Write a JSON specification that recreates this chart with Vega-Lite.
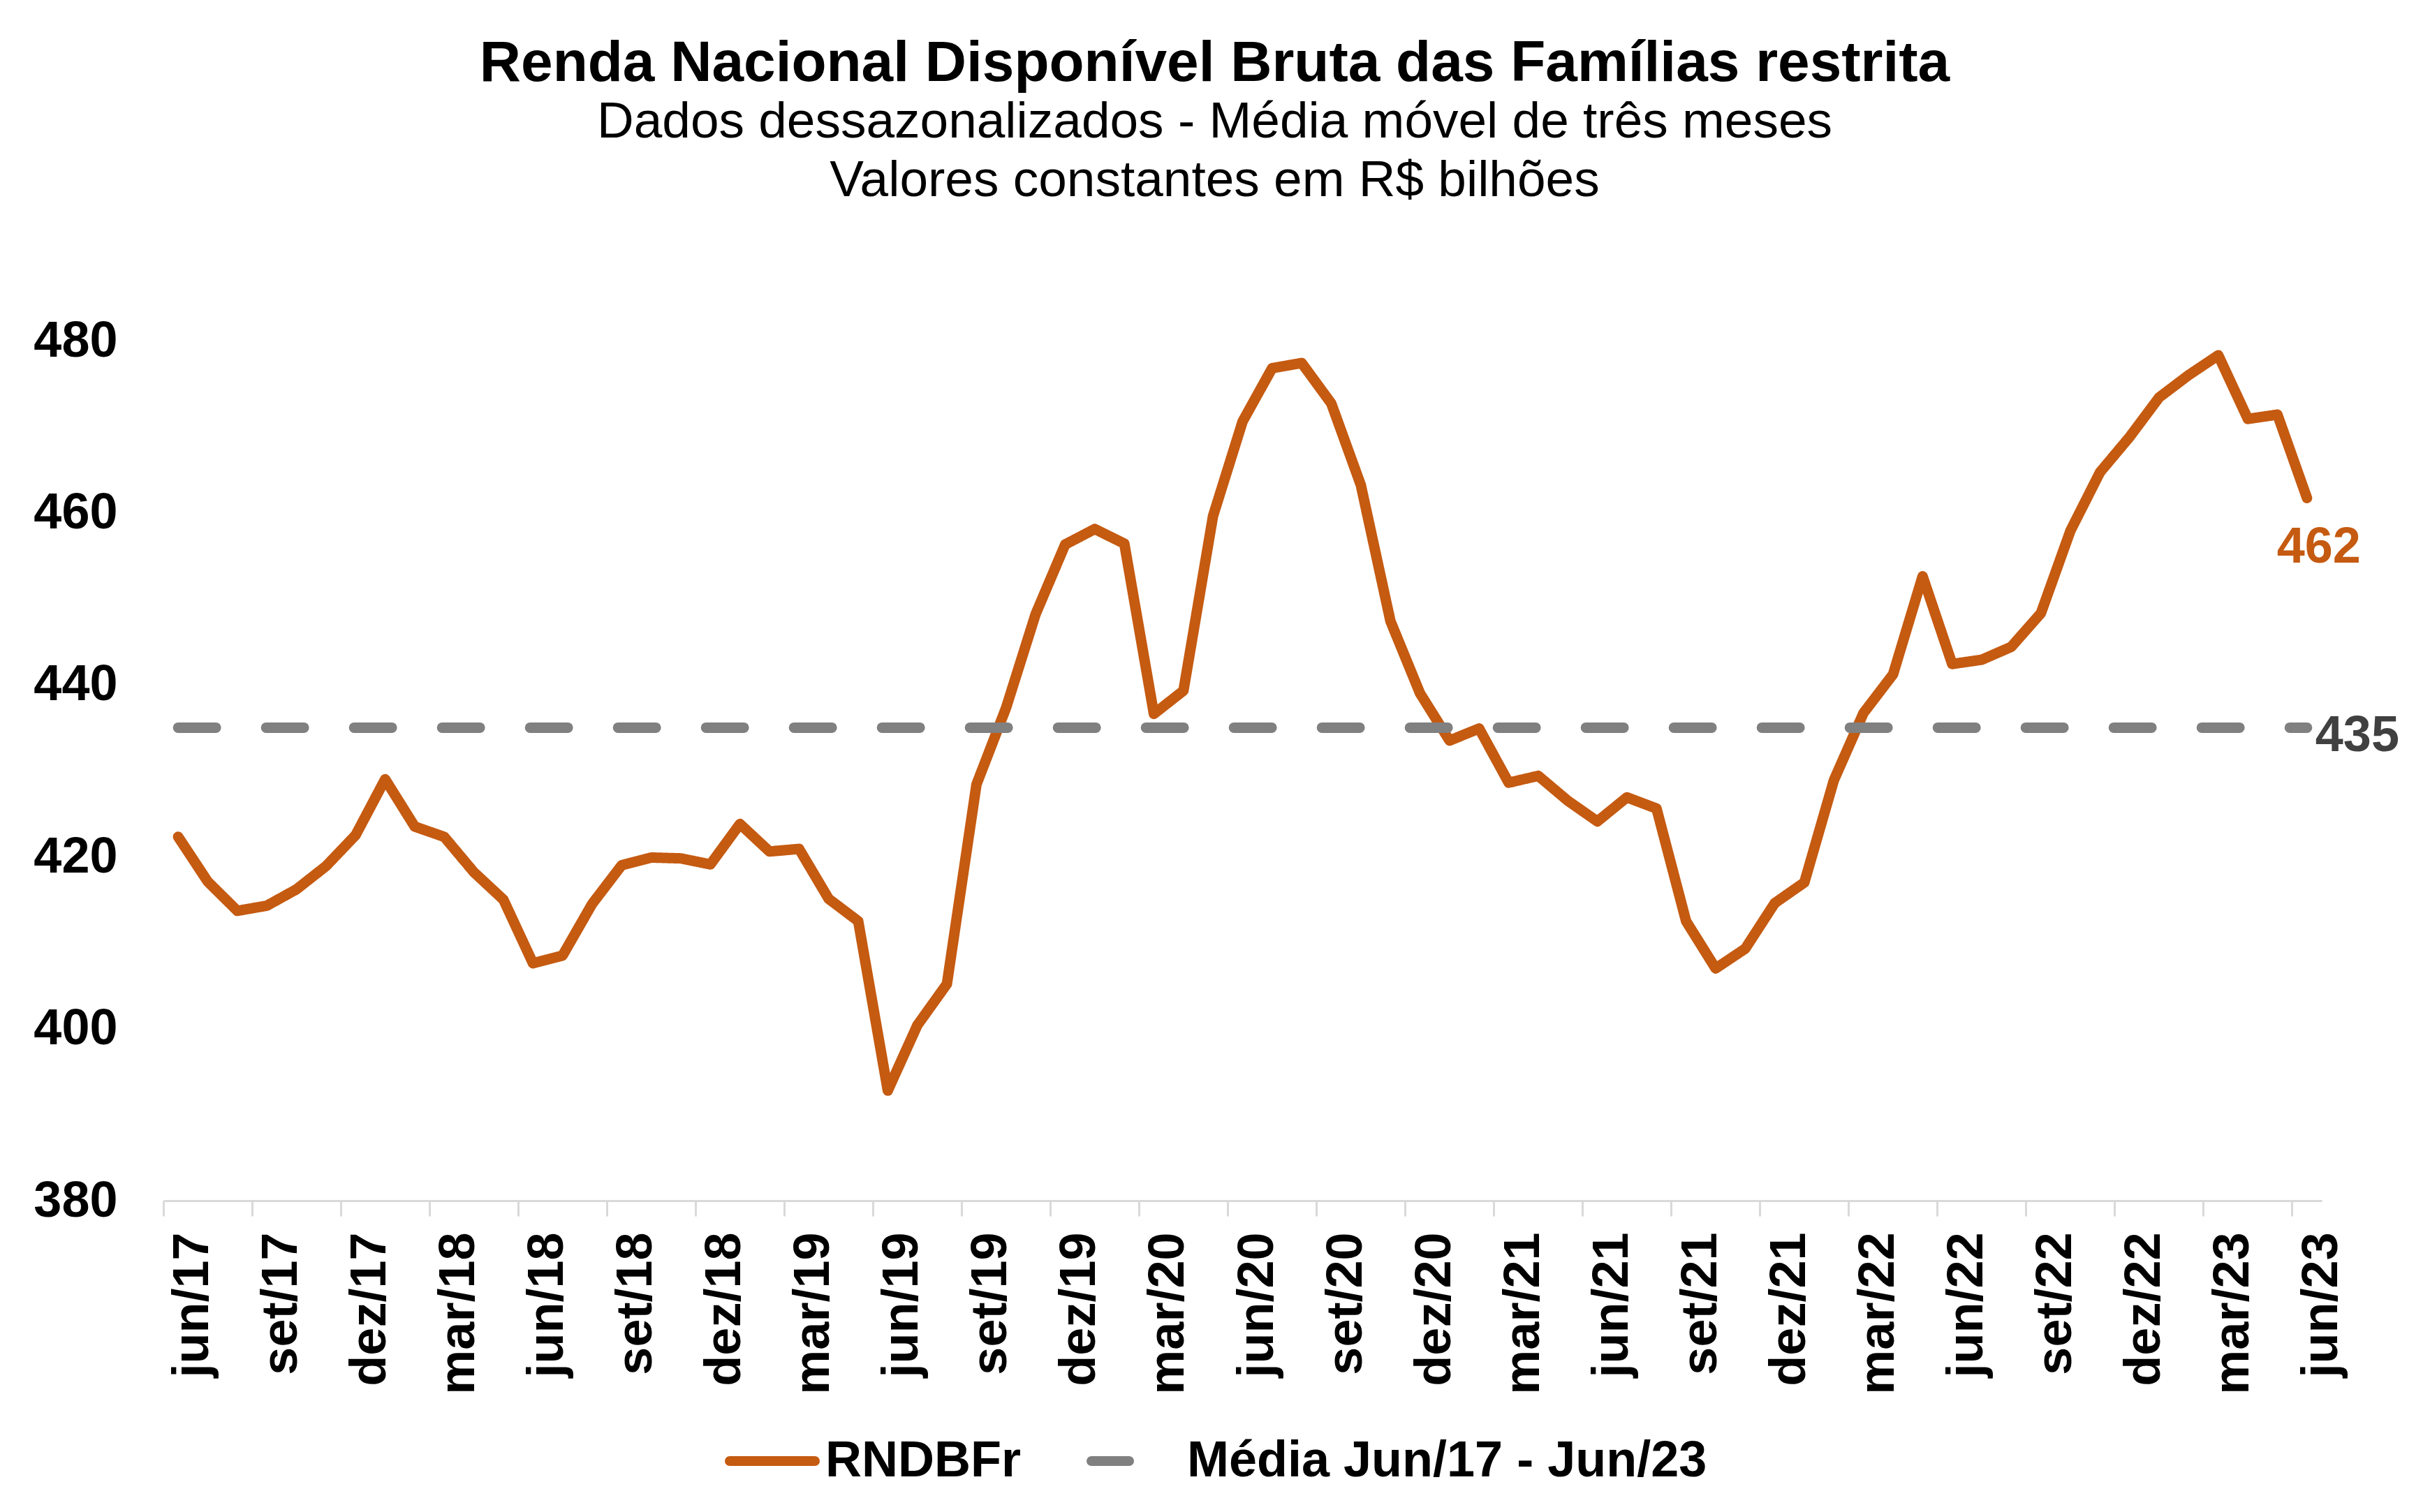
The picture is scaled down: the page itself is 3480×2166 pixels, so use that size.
{
  "$schema": "https://vega.github.io/schema/vega-lite/v6.json",
  "width": 3091,
  "height": 1232,
  "autosize": {"type": "none"},
  "padding": {"left": 234, "top": 488, "right": 155, "bottom": 446},
  "background": "white",
  "config": {
    "font": "Liberation Sans",
    "view": {"stroke": null},
    "legend": {
      "orient": "none",
      "legendX": 804,
      "legendY": 1537,
      "direction": "horizontal",
      "symbolType": "stroke",
      "symbolSize": 14884,
      "symbolStrokeWidth": 14,
      "labelFontSize": 72,
      "labelFontWeight": "bold",
      "labelColor": "#000000",
      "labelFont": "Liberation Sans",
      "labelLimit": 1200,
      "columnPadding": 73,
      "labelOffset": 8
    }
  },
  "title": {
    "text": "Renda Nacional Disponível Bruta das Famílias restrita",
    "subtitle": ["Dados dessazonalizados - Média móvel de três meses", "Valores constantes em R$ bilhões"],
    "fontSize": 82,
    "fontWeight": "bold",
    "color": "#000000",
    "font": "Liberation Sans",
    "subtitleFont": "Liberation Sans",
    "subtitleFontSize": 73,
    "subtitleColor": "#000000",
    "subtitleLineHeight": 84,
    "subtitlePadding": 6,
    "anchor": "middle",
    "dx": -40,
    "offset": 155
  },
  "data": {
    "values": [
      {"mes": "jun/17", "serie": "RNDBFr", "valor": 422.3},
      {"mes": "jul/17", "serie": "RNDBFr", "valor": 417.1},
      {"mes": "ago/17", "serie": "RNDBFr", "valor": 413.7},
      {"mes": "set/17", "serie": "RNDBFr", "valor": 414.3},
      {"mes": "out/17", "serie": "RNDBFr", "valor": 416.2},
      {"mes": "nov/17", "serie": "RNDBFr", "valor": 418.9},
      {"mes": "dez/17", "serie": "RNDBFr", "valor": 422.5},
      {"mes": "jan/18", "serie": "RNDBFr", "valor": 429.0},
      {"mes": "fev/18", "serie": "RNDBFr", "valor": 423.5},
      {"mes": "mar/18", "serie": "RNDBFr", "valor": 422.3},
      {"mes": "abr/18", "serie": "RNDBFr", "valor": 418.2},
      {"mes": "mai/18", "serie": "RNDBFr", "valor": 415.0},
      {"mes": "jun/18", "serie": "RNDBFr", "valor": 407.6},
      {"mes": "jul/18", "serie": "RNDBFr", "valor": 408.5},
      {"mes": "ago/18", "serie": "RNDBFr", "valor": 414.5},
      {"mes": "set/18", "serie": "RNDBFr", "valor": 419.0},
      {"mes": "out/18", "serie": "RNDBFr", "valor": 419.9},
      {"mes": "nov/18", "serie": "RNDBFr", "valor": 419.8},
      {"mes": "dez/18", "serie": "RNDBFr", "valor": 419.1},
      {"mes": "jan/19", "serie": "RNDBFr", "valor": 423.8},
      {"mes": "fev/19", "serie": "RNDBFr", "valor": 420.6},
      {"mes": "mar/19", "serie": "RNDBFr", "valor": 420.9},
      {"mes": "abr/19", "serie": "RNDBFr", "valor": 415.1},
      {"mes": "mai/19", "serie": "RNDBFr", "valor": 412.5},
      {"mes": "jun/19", "serie": "RNDBFr", "valor": 392.8},
      {"mes": "jul/19", "serie": "RNDBFr", "valor": 400.4},
      {"mes": "ago/19", "serie": "RNDBFr", "valor": 405.2},
      {"mes": "set/19", "serie": "RNDBFr", "valor": 428.4},
      {"mes": "out/19", "serie": "RNDBFr", "valor": 437.3},
      {"mes": "nov/19", "serie": "RNDBFr", "valor": 448.2},
      {"mes": "dez/19", "serie": "RNDBFr", "valor": 456.3},
      {"mes": "jan/20", "serie": "RNDBFr", "valor": 458.1},
      {"mes": "fev/20", "serie": "RNDBFr", "valor": 456.4},
      {"mes": "mar/20", "serie": "RNDBFr", "valor": 436.6},
      {"mes": "abr/20", "serie": "RNDBFr", "valor": 439.3},
      {"mes": "mai/20", "serie": "RNDBFr", "valor": 459.6},
      {"mes": "jun/20", "serie": "RNDBFr", "valor": 470.6},
      {"mes": "jul/20", "serie": "RNDBFr", "valor": 476.8},
      {"mes": "ago/20", "serie": "RNDBFr", "valor": 477.4},
      {"mes": "set/20", "serie": "RNDBFr", "valor": 472.7},
      {"mes": "out/20", "serie": "RNDBFr", "valor": 463.2},
      {"mes": "nov/20", "serie": "RNDBFr", "valor": 447.4},
      {"mes": "dez/20", "serie": "RNDBFr", "valor": 439.0},
      {"mes": "jan/21", "serie": "RNDBFr", "valor": 433.5},
      {"mes": "fev/21", "serie": "RNDBFr", "valor": 434.9},
      {"mes": "mar/21", "serie": "RNDBFr", "valor": 428.6},
      {"mes": "abr/21", "serie": "RNDBFr", "valor": 429.4},
      {"mes": "mai/21", "serie": "RNDBFr", "valor": 426.5},
      {"mes": "jun/21", "serie": "RNDBFr", "valor": 424.1},
      {"mes": "jul/21", "serie": "RNDBFr", "valor": 426.9},
      {"mes": "ago/21", "serie": "RNDBFr", "valor": 425.6},
      {"mes": "set/21", "serie": "RNDBFr", "valor": 412.5},
      {"mes": "out/21", "serie": "RNDBFr", "valor": 407.0},
      {"mes": "nov/21", "serie": "RNDBFr", "valor": 409.3},
      {"mes": "dez/21", "serie": "RNDBFr", "valor": 414.6},
      {"mes": "jan/22", "serie": "RNDBFr", "valor": 417.0},
      {"mes": "fev/22", "serie": "RNDBFr", "valor": 428.9},
      {"mes": "mar/22", "serie": "RNDBFr", "valor": 436.7},
      {"mes": "abr/22", "serie": "RNDBFr", "valor": 441.2},
      {"mes": "mai/22", "serie": "RNDBFr", "valor": 452.6},
      {"mes": "jun/22", "serie": "RNDBFr", "valor": 442.4},
      {"mes": "jul/22", "serie": "RNDBFr", "valor": 442.9},
      {"mes": "ago/22", "serie": "RNDBFr", "valor": 444.4},
      {"mes": "set/22", "serie": "RNDBFr", "valor": 448.3},
      {"mes": "out/22", "serie": "RNDBFr", "valor": 457.9},
      {"mes": "nov/22", "serie": "RNDBFr", "valor": 464.7},
      {"mes": "dez/22", "serie": "RNDBFr", "valor": 468.8},
      {"mes": "jan/23", "serie": "RNDBFr", "valor": 473.4},
      {"mes": "fev/23", "serie": "RNDBFr", "valor": 476.0},
      {"mes": "mar/23", "serie": "RNDBFr", "valor": 478.3},
      {"mes": "abr/23", "serie": "RNDBFr", "valor": 470.9},
      {"mes": "mai/23", "serie": "RNDBFr", "valor": 471.4},
      {"mes": "jun/23", "serie": "RNDBFr", "valor": 461.7},
      {"mes": "jun/17", "serie": "Média Jun/17 - Jun/23", "valor": 435},
      {"mes": "jun/23", "serie": "Média Jun/17 - Jun/23", "valor": 435}
    ]
  },
  "encoding": {
    "x": {
      "field": "mes",
      "type": "ordinal",
      "sort": null,
      "scale": {"type": "band", "paddingInner": 0, "paddingOuter": 0},
      "axis": {
        "title": null,
        "values": ["jun/17", "set/17", "dez/17", "mar/18", "jun/18", "set/18", "dez/18", "mar/19", "jun/19", "set/19", "dez/19", "mar/20", "jun/20", "set/20", "dez/20", "mar/21", "jun/21", "set/21", "dez/21", "mar/22", "jun/22", "set/22", "dez/22", "mar/23", "jun/23"],
        "labelAngle": -90,
        "labelFontSize": 72,
        "labelFontWeight": "bold",
        "labelColor": "#000000",
        "labelFont": "Liberation Sans",
        "labelLimit": 600,
        "labelOverlap": false,
        "domainColor": "#D9D9D9",
        "domainWidth": 3,
        "tickColor": "#D9D9D9",
        "tickWidth": 3,
        "tickSize": 22,
        "bandPosition": 0,
        "labelOffset": 21,
        "labelPadding": 23,
        "grid": false
      }
    },
    "y": {
      "field": "valor",
      "type": "quantitative",
      "scale": {"domain": [380, 480], "nice": false, "zero": false},
      "axis": {
        "title": null,
        "values": [380, 400, 420, 440, 460, 480],
        "grid": false,
        "domain": false,
        "ticks": false,
        "labelFontSize": 72,
        "labelFontWeight": "bold",
        "labelColor": "#000000",
        "labelFont": "Liberation Sans",
        "labelPadding": 66
      }
    }
  },
  "layer": [
    {
      "mark": {"type": "line", "strokeWidth": 15, "strokeCap": "round", "strokeJoin": "round"},
      "encoding": {
        "color": {
          "field": "serie",
          "type": "nominal",
          "sort": null,
          "scale": {"domain": ["RNDBFr", "Média Jun/17 - Jun/23"], "range": ["#C55A11", "#808080"]},
          "legend": {"title": null, "encode": {"symbols": {"update": {"strokeCap": {"value": "round"}}}}}
        },
        "strokeDash": {
          "field": "serie",
          "type": "nominal",
          "sort": null,
          "scale": {"domain": ["RNDBFr", "Média Jun/17 - Jun/23"], "range": [[1, 0], [54, 72]]},
          "legend": {"title": null, "encode": {"symbols": {"update": {"strokeCap": {"value": "round"}}}}}
        }
      }
    },
    {
      "transform": [{"filter": "datum.serie == 'RNDBFr' && datum.mes == 'jun/23'"}],
      "mark": {"type": "text", "fontSize": 72, "fontWeight": "bold", "color": "#C55A11", "dx": 17, "dy": 71, "font": "Liberation Sans"},
      "encoding": {"text": {"field": "valor", "type": "quantitative", "format": ".0f"}}
    },
    {
      "transform": [{"filter": "datum.serie != 'RNDBFr' && datum.mes == 'jun/23'"}],
      "mark": {"type": "text", "align": "left", "fontSize": 72, "fontWeight": "bold", "color": "#404040", "dx": 12, "dy": 12, "font": "Liberation Sans"},
      "encoding": {"text": {"field": "valor", "type": "quantitative", "format": ".0f"}}
    }
  ]
}
